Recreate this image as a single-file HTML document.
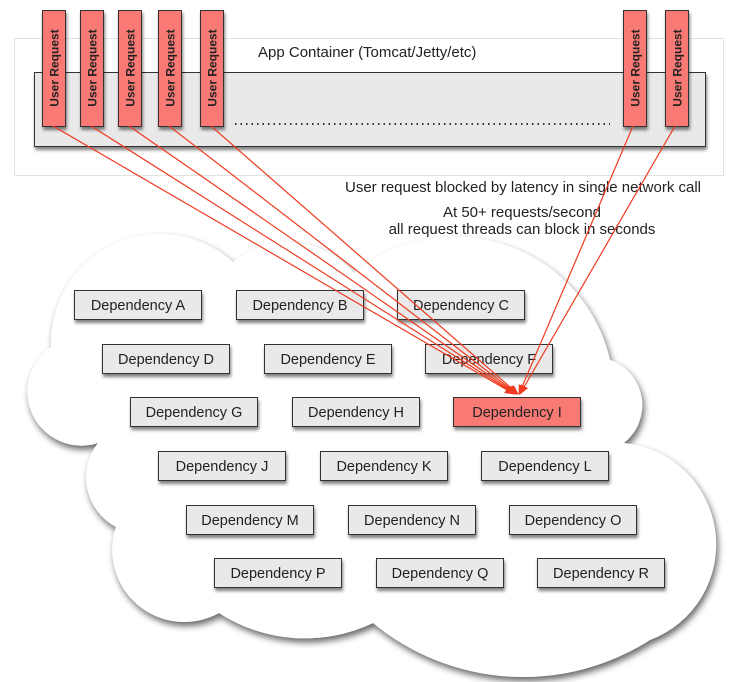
<!DOCTYPE html>
<html><head><meta charset="utf-8"><style>
html,body{margin:0;padding:0;background:#fff;width:729px;height:682px;overflow:hidden}
svg{display:block}
text{font-family:"Liberation Sans",sans-serif}
</style></head><body>
<svg width="729" height="682" viewBox="0 0 729 682" xmlns="http://www.w3.org/2000/svg">
<defs>
<filter id="sh" x="-10%" y="-10%" width="130%" height="130%">
<feGaussianBlur in="SourceAlpha" stdDeviation="3.5"/>
<feOffset dx="2" dy="4" result="b"/>
<feComponentTransfer><feFuncA type="linear" slope="0.6"/></feComponentTransfer>
<feMerge><feMergeNode/><feMergeNode in="SourceGraphic"/></feMerge>
</filter>
<filter id="bs" x="-10%" y="-20%" width="130%" height="160%">
<feGaussianBlur in="SourceAlpha" stdDeviation="1.5"/>
<feOffset dx="1" dy="3"/>
<feComponentTransfer><feFuncA type="linear" slope="0.5"/></feComponentTransfer>
<feMerge><feMergeNode/><feMergeNode in="SourceGraphic"/></feMerge>
</filter>
<marker id="ar" markerWidth="10" markerHeight="10" refX="9" refY="5" orient="auto" markerUnits="userSpaceOnUse">
<path d="M0,1 L10,5 L0,9 z" fill="#f03a1e"/>
</marker>
</defs>

<!-- App container -->
<rect x="14.5" y="38.5" width="709" height="137" fill="#fff" stroke="#e2e2e2"/>
<rect x="34.5" y="72.5" width="671" height="74" fill="#e9e9e9" stroke="#333" filter="url(#bs)"/>
<text x="258" y="57" font-size="15" fill="#222">App Container (Tomcat/Jetty/etc)</text>
<line x1="235" y1="124" x2="610" y2="124" stroke="#333" stroke-width="2" stroke-dasharray="1.5,4"/>

<!-- Cloud -->
<path filter="url(#sh)" fill="#fff" d="M51,347 A109,109 0 0 1 233,262 A86,86 0 0 1 354,273 A159,159 0 0 1 610,360 A48,48 0 0 1 624,443 A102,102 0 0 1 650,640 A236,236 0 0 1 373,623 A158,158 0 0 1 219,613 A72,72 0 0 1 116,527 A56,56 0 0 1 98,443 A54,54 0 0 1 51,347 Z"/>

<!-- Dependencies -->
<g stroke="#333" filter="url(#bs)">
<g fill="#e9e9e9">
<rect x="74.5" y="290.5" width="127" height="29"/><rect x="236.5" y="290.5" width="127" height="29"/><rect x="397.5" y="290.5" width="127" height="29"/>
<rect x="102.5" y="344.5" width="127" height="29"/><rect x="264.5" y="344.5" width="127" height="29"/><rect x="425.5" y="344.5" width="127" height="29"/>
<rect x="130.5" y="397.5" width="127" height="29"/><rect x="292.5" y="397.5" width="127" height="29"/>
<rect x="158.5" y="451.5" width="127" height="29"/><rect x="320.5" y="451.5" width="127" height="29"/><rect x="481.5" y="451.5" width="127" height="29"/>
<rect x="186.5" y="505.5" width="127" height="29"/><rect x="348.5" y="505.5" width="127" height="29"/><rect x="509.5" y="505.5" width="127" height="29"/>
<rect x="214.5" y="558.5" width="127" height="29"/><rect x="376.5" y="558.5" width="127" height="29"/><rect x="537.5" y="558.5" width="127" height="29"/>
</g>
<rect x="453.5" y="397.5" width="127" height="29" fill="#f97a74"/>
</g>
<g font-size="14.5" fill="#222" text-anchor="middle">
<text x="138" y="310">Dependency A</text><text x="300" y="310">Dependency B</text><text x="461" y="310">Dependency C</text>
<text x="166" y="364">Dependency D</text><text x="328" y="364">Dependency E</text><text x="489" y="364">Dependency F</text>
<text x="194" y="417">Dependency G</text><text x="356" y="417">Dependency H</text><text x="517" y="417">Dependency I</text>
<text x="222" y="471">Dependency J</text><text x="384" y="471">Dependency K</text><text x="545" y="471">Dependency L</text>
<text x="250" y="525">Dependency M</text><text x="412" y="525">Dependency N</text><text x="573" y="525">Dependency O</text>
<text x="278" y="578">Dependency P</text><text x="440" y="578">Dependency Q</text><text x="601" y="578">Dependency R</text>
</g>

<!-- Texts -->
<g font-size="15" fill="#222" text-anchor="middle">
<text x="523" y="192">User request blocked by latency in single network call</text>
<text x="522" y="217">At 50+ requests/second</text>
<text x="522" y="234">all request threads can block in seconds</text>
</g>

<!-- User request boxes -->
<g fill="#f97a74" stroke="#333" filter="url(#bs)">
<rect x="42.5" y="10.5" width="23" height="116"/>
<rect x="80.5" y="10.5" width="23" height="116"/>
<rect x="118.5" y="10.5" width="23" height="116"/>
<rect x="158.5" y="10.5" width="23" height="116"/>
<rect x="200.5" y="10.5" width="23" height="116"/>
<rect x="623.5" y="10.5" width="23" height="116"/>
<rect x="665.5" y="10.5" width="23" height="116"/>
</g>
<g font-size="12" font-weight="bold" fill="#222" text-anchor="middle">
<text transform="translate(58.5,68) rotate(-90)">User Request</text>
<text transform="translate(96.5,68) rotate(-90)">User Request</text>
<text transform="translate(134.5,68) rotate(-90)">User Request</text>
<text transform="translate(174.5,68) rotate(-90)">User Request</text>
<text transform="translate(216.5,68) rotate(-90)">User Request</text>
<text transform="translate(639.5,68) rotate(-90)">User Request</text>
<text transform="translate(681.5,68) rotate(-90)">User Request</text>
</g>

<!-- Arrows -->
<g stroke="#f03a1e" stroke-width="1.2" fill="none" marker-end="url(#ar)">
<line x1="53" y1="126" x2="514" y2="394"/>
<line x1="91" y1="126" x2="515" y2="394"/>
<line x1="129" y1="126" x2="516" y2="394"/>
<line x1="169" y1="126" x2="517" y2="394"/>
<line x1="211" y1="126" x2="518" y2="394"/>
<line x1="633" y1="126" x2="519" y2="394"/>
<line x1="675" y1="126" x2="520" y2="394"/>
</g>
</svg>
</body></html>
